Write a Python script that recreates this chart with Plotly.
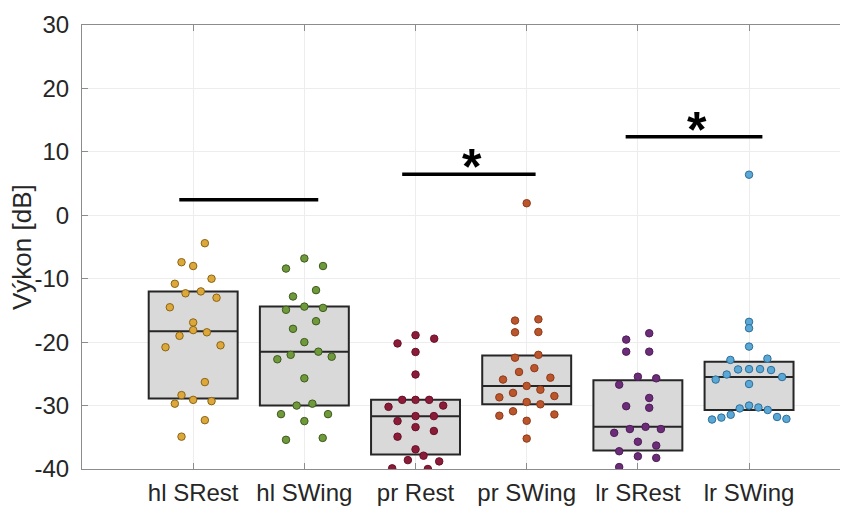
import plotly.graph_objects as go

categories = ["hl SRest", "hl SWing", "pr Rest", "pr SWing", "lr SRest", "lr SWing"]
positions = [1, 2, 3, 4, 5, 6]
y_ticks = [-40, -30, -20, -10, 0, 10, 20, 30]
y_tick_labels = ["-40", "-30", "-20", "-10", "0", "10", "20", "30"]

# box statistics (q1, median, q3)
box_q1 = [-28.9, -30.0, -37.7, -29.8, -37.1, -30.7]
box_median = [-18.3, -21.5, -31.7, -26.9, -33.35, -25.5]
box_q3 = [-12.0, -14.4, -29.1, -22.1, -26.0, -23.1]

# individual observations and their horizontal jitter (category units)
hl_srest_vals = [-4.4, -7.4, -8.0, -10.0, -10.8, -12.3, -12.0, -13.0, -14.5, -16.9, -18.1,
                 -18.45, -19.0, -20.8, -20.5, -26.3, -28.35, -29.1, -29.7, -29.3, -32.3, -34.9]
hl_srest_jit = [0.105, -0.105, 0.0, 0.165, -0.165, -0.069, 0.069, 0.21, -0.21, 0.0, 0.0,
                0.123, -0.123, -0.249, 0.246, 0.105, -0.105, 0.0, -0.165, 0.165, 0.105, -0.105]

hl_swing_vals = [-6.8, -8.4, -8.0, -11.8, -12.8, -14.9, -14.4, -14.6, -16.7, -17.9, -20.0,
                 -21.5, -22.0, -22.7, -22.3, -25.7, -30.0, -29.7, -31.35, -31.35, -32.45, -35.4, -35.1]
hl_swing_jit = [0.0, -0.165, 0.168, 0.105, -0.102, -0.165, 0.0, 0.168, 0.105, -0.102, 0.0,
                0.126, -0.123, -0.243, 0.246, 0.0, -0.069, 0.072, -0.21, 0.213, 0.0, -0.165, 0.165]

pr_rest_vals = [-18.9, -20.2, -19.45, -21.55, -25.1, -29.1, -29.1, -29.1, -30.2, -30.0, -31.66,
                -31.66, -32.45, -33.4, -34.0, -34.9, -36.9, -37.9, -38.6, -38.8, -39.9, -40.0]
pr_rest_jit = [0.0, -0.162, 0.168, 0.0, 0.0, -0.12, 0.0, 0.123, -0.243, 0.249, 0.0,
               0.165, -0.162, 0.0, 0.165, -0.162, 0.0, 0.072, -0.069, 0.213, -0.21, 0.111]

pr_swing_vals = [1.9, -16.6, -16.4, -18.45, -18.4, -22.45, -22.0, -24.7, -24.1, -25.9, -25.6,
                 -26.9, -28.0, -27.5, -28.7, -28.5, -29.45, -29.8, -31.6, -30.9, -31.4, -32.4, -35.2]
pr_swing_jit = [0.0, -0.105, 0.105, -0.105, 0.105, -0.105, 0.105, -0.069, 0.069, -0.213, 0.213,
                0.0, -0.123, 0.123, -0.246, 0.249, 0.0, 0.123, -0.246, -0.123, 0.249, 0.0, 0.0]

lr_srest_vals = [-19.6, -18.6, -21.5, -21.5, -25.45, -25.7, -26.7, -28.8, -30.1, -30.35,
                 -34.3, -33.7, -33.35, -33.7, -35.7, -37.2, -36.3, -38.0, -38.25, -39.7]
lr_srest_jit = [-0.105, 0.102, -0.105, 0.102, 0.0, 0.165, -0.168, 0.102, -0.105, 0.102,
                -0.213, -0.072, 0.069, 0.207, 0.0, -0.168, 0.165, 0.0, 0.165, -0.168]

lr_swing_vals = [6.4, -16.8, -17.8, -20.7, -22.8, -22.6, -24.3, -24.25, -24.25, -24.4, -25.1,
                 -25.9, -25.5, -26.6, -30.45, -30.0, -30.3, -30.7, -32.2, -31.9, -31.45, -31.8, -32.1]
lr_swing_jit = [0.0, 0.0, 0.0, 0.0, -0.168, 0.165, -0.099, 0.0, 0.099, 0.198, -0.201,
                -0.3, 0.297, 0.0, -0.084, 0.0, 0.084, 0.168, -0.333, -0.249, -0.165, 0.252, 0.336]

group_vals = [hl_srest_vals, hl_swing_vals, pr_rest_vals, pr_swing_vals, lr_srest_vals, lr_swing_vals]
group_jit = [hl_srest_jit, hl_swing_jit, pr_rest_jit, pr_swing_jit, lr_srest_jit, lr_swing_jit]

dot_fill = ["#DDA83A", "#6F9A3C", "#8A1C38", "#BA552C", "#6C2D78", "#5AA8D6"]
dot_edge = ["#8A6418", "#3F5A1E", "#6A1029", "#8E3B1A", "#4E1D58", "#2F6E99"]

# significance bars: (start, end, level, label)
sig_start = [0.875, 2.88, 4.89]
sig_end = [2.125, 4.08, 6.12]
sig_level = [2.45, 6.45, 12.4]
sig_label = ["", "*", "*"]

fig = go.Figure()

for i, p in enumerate(positions):
    fig.add_trace(go.Box(
        x=[p], q1=[box_q1[i]], median=[box_median[i]], q3=[box_q3[i]],
        lowerfence=[box_q1[i]], upperfence=[box_q3[i]],
        width=0.8, whiskerwidth=0, fillcolor="#D9D9D9",
        line=dict(color="#262626", width=2), boxpoints=False,
        showlegend=False, hoverinfo="skip",
    ))

for i, p in enumerate(positions):
    fig.add_trace(go.Scatter(
        x=[p + j for j in group_jit[i]], y=group_vals[i], mode="markers",
        marker=dict(size=7.5, color=dot_fill[i], line=dict(color=dot_edge[i], width=1)),
        showlegend=False, cliponaxis=True,
    ))

for s, e, lv, lb in zip(sig_start, sig_end, sig_level, sig_label):
    fig.add_trace(go.Scatter(
        x=[s, e], y=[lv, lv], mode="lines",
        line=dict(color="black", width=3.5), showlegend=False,
    ))
    if lb:
        fig.add_annotation(
            x=(s + e) / 2, y=lv, xref="x", yref="y", text="<b>" + lb + "</b>",
            showarrow=False, yanchor="bottom", yshift=-23, xshift=3,
            font=dict(family="Liberation Sans, Arial", size=50, color="black"),
        )

fig.add_annotation(
    x=0, y=0.5, xref="paper", yref="paper", text="Výkon [dB]", textangle=-90,
    showarrow=False, xanchor="center", yanchor="middle", xshift=-60,
    font=dict(family="Liberation Sans, Arial", size=26, color="#262626"),
)

# the page adds an 8px body margin, so the figure is sized to the visible area
fig.update_layout(
    width=840, height=498,
    margin=dict(l=74, r=0, t=17, b=37),
    plot_bgcolor="white", paper_bgcolor="white",
    font=dict(family="Liberation Sans, Arial", size=24, color="#262626"),
    showlegend=False,
)
fig.update_xaxes(
    range=[0, 6.89], tickmode="array", tickvals=positions, ticktext=categories,
    showgrid=True, gridcolor="#EDEDED", gridwidth=1, automargin=False,
    showline=True, linecolor="#8C8C8C", linewidth=1, mirror="ticks",
    ticks="inside", ticklen=6, tickcolor="#8C8C8C", zeroline=False,
    tickfont=dict(size=24, color="#262626"), ticklabelstandoff=2,
)
fig.update_yaxes(
    range=[-40, 30], tickmode="array", tickvals=y_ticks, ticktext=y_tick_labels,
    showgrid=True, gridcolor="#EDEDED", gridwidth=1, automargin=False,
    showline=True, linecolor="#8C8C8C", linewidth=1,
    ticks="inside", ticklen=6, tickcolor="#8C8C8C", zeroline=False,
    tickfont=dict(size=24, color="#262626"), ticklabelstandoff=7,
)

fig.write_html("out.html")
